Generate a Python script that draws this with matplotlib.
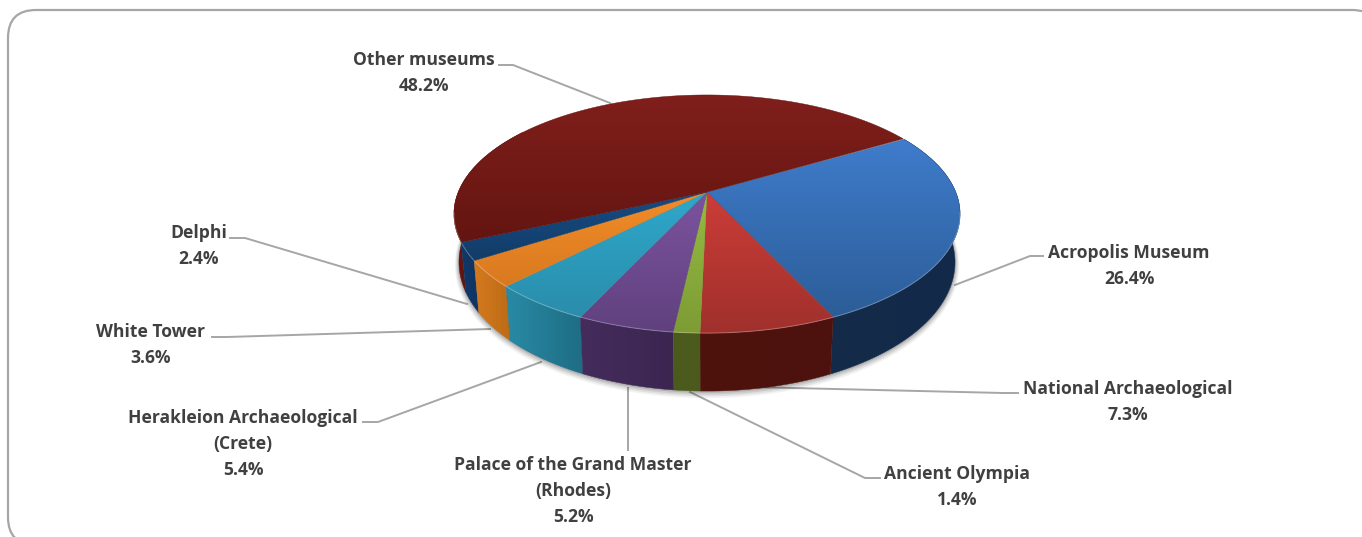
import matplotlib
matplotlib.use("Agg")
import matplotlib.pyplot as plt
from matplotlib.colors import LinearSegmentedColormap
from matplotlib.patches import PathPatch, Polygon
from matplotlib.path import Path
import numpy as np

names = ["Acropolis Museum", "National Archaeological", "Ancient Olympia",
         "Palace of the Grand Master\n(Rhodes)", "Herakleion Archaeological\n(Crete)",
         "White Tower", "Delphi", "Other museums"]
shares = [26.4, 7.3, 1.4, 5.2, 5.4, 3.6, 2.4, 48.2]

# top surface colours, light to dark, then side colours left to right
top_light = ["#3f7ccb", "#cc3d38", "#96bb42", "#7c539f", "#2fa8cb", "#f28c28", "#174c84", "#801f1b"]
top_dark = ["#2c5d98", "#a0302c", "#7d9c35", "#60417e", "#2a8dab", "#d97a20", "#123c68", "#641511"]
side_left = ["#142b49", "#4f120e", "#4b5a1d", "#442c5c", "#298aa6", "#d47a1e", "#0f3868", "#641511"]
side_right = ["#13294a", "#4d120d", "#4b5a1d", "#3b2650", "#1e6d84", "#bd6b17", "#0f3564", "#5a1310"]

label_xy = [(1129, 266), (1128, 402), (957, 487), (573, 491), (243, 444), (151, 345), (199, 246), (424, 73)]
leader_x = [[1043, 1030, 955], [1018, 1003, 750], [880, 865, 690], [628, 628, 628],
            [363, 378, 541], [212, 227, 490], [230, 245, 467], [499, 513, 610]]
leader_y = [[256, 256, 285], [393, 393, 387], [478, 478, 392], [388, 420, 450],
            [422, 422, 362], [337, 337, 329], [238, 238, 304], [65, 65, 103]]

# perspective ellipse, all in figure pixels
cx, cy = 707, 192
rx, ry = 248.7, 115
persp = 0.185
start = 30


def top_ring(deg):
    t = np.radians(deg)
    w = 1 + persp * np.sin(t)
    return cx + rx * np.cos(t) / w, cy - ry * np.sin(t) / w


def bottom_ring(deg):
    x, y = top_ring(deg)
    return cx + 0.98 * (x - cx), y + 58 - 0.083 * (333 - y)


def gradient_fill(ax, verts, c1, c2, horizontal=False, z=2):
    verts = np.array(verts)
    cmap = LinearSegmentedColormap.from_list("g", [c1, c2])
    x0, x1 = verts[:, 0].min(), verts[:, 0].max()
    y0, y1 = verts[:, 1].min(), verts[:, 1].max()
    g = np.linspace(0, 1, 128)
    g = g[None, :] if horizontal else g[:, None]
    im = ax.imshow(g, cmap=cmap, extent=(x0, x1, y1, y0), aspect="auto", zorder=z, interpolation="bilinear")
    im.set_clip_path(Polygon(verts, closed=True, transform=ax.transData))
    # thin same-colour edge hides the seams between clipped images
    ax.add_patch(Polygon(verts, closed=True, fill=False, edgecolor=c2, linewidth=0.3, zorder=z))


fig = plt.figure(figsize=(13.62, 5.37), dpi=100)
ax = fig.add_axes([0, 0, 1, 1])
ax.set_xlim(0, 1362)
ax.set_ylim(537, 0)
ax.axis("off")

# chart frame, it runs off the picture on the right and at the bottom
r = 28
frame = Path([(1380, 38), (1380, 10), (1352, 10), (8 + r, 10), (8, 10), (8, 10 + r), (8, 517), (8, 545), (36, 545)],
             [Path.MOVETO, Path.CURVE3, Path.CURVE3, Path.LINETO, Path.CURVE3, Path.CURVE3, Path.LINETO, Path.CURVE3, Path.CURVE3])
ax.add_patch(PathPatch(frame, fill=False, edgecolor="#a6a6a6", linewidth=1.6, zorder=1))

for xs, ys in zip(leader_x, leader_y):
    ax.plot(xs, ys, color="#a6a6a6", linewidth=1.4, zorder=1, solid_joinstyle="miter")

edges = start - np.cumsum([0] + shares) * 3.6

# soft shadow under the base
arc = np.linspace(15, -195, 200)
bx, by = bottom_ring(arc)
for grow, alpha in [(4, 0.05), (3, 0.07), (2, 0.09), (1, 0.12)]:
    ax.plot(bx, by + grow * 0.7, color="#000000", alpha=alpha, linewidth=grow * 1.5, zorder=1.5)

# sides first, back to front, top surface over them
order = [7, 6, 0, 5, 1, 4, 3, 2]
for i in order:
    a0, a1 = edges[i], edges[i + 1]
    if i == 7:
        a1 = -215
    if i == 0:
        a0 = 30
    arc = np.linspace(a0, a1, 80)
    tx, ty = top_ring(arc)
    bx, by = bottom_ring(arc)
    verts = list(zip(tx, ty)) + list(zip(bx[::-1], by[::-1]))
    left, right = side_left[i], side_right[i]
    gradient_fill(ax, verts, left, right, horizontal=True, z=2 + order.index(i) * 0.01)

for i in range(len(shares)):
    arc = np.linspace(edges[i], edges[i + 1], 120)
    tx, ty = top_ring(arc)
    verts = [(cx, cy)] + list(zip(tx, ty))
    gradient_fill(ax, verts, top_light[i], top_dark[i], z=3 + i * 0.01)

# light rim on the front edge
arc = np.linspace(-10, -170, 200)
tx, ty = top_ring(arc)
ax.plot(tx, ty, color="#ffffff", alpha=0.25, linewidth=0.8, zorder=3.5)

for name, share, (lx, ly) in zip(names, shares, label_xy):
    ax.text(lx, ly, f"{name}\n{share}%", ha="center", va="center", multialignment="center",
            family="Open Sans", fontweight="bold", fontsize=12.6, color="#404040", linespacing=1.54, zorder=5)

fig.savefig("out.png", dpi=100)
